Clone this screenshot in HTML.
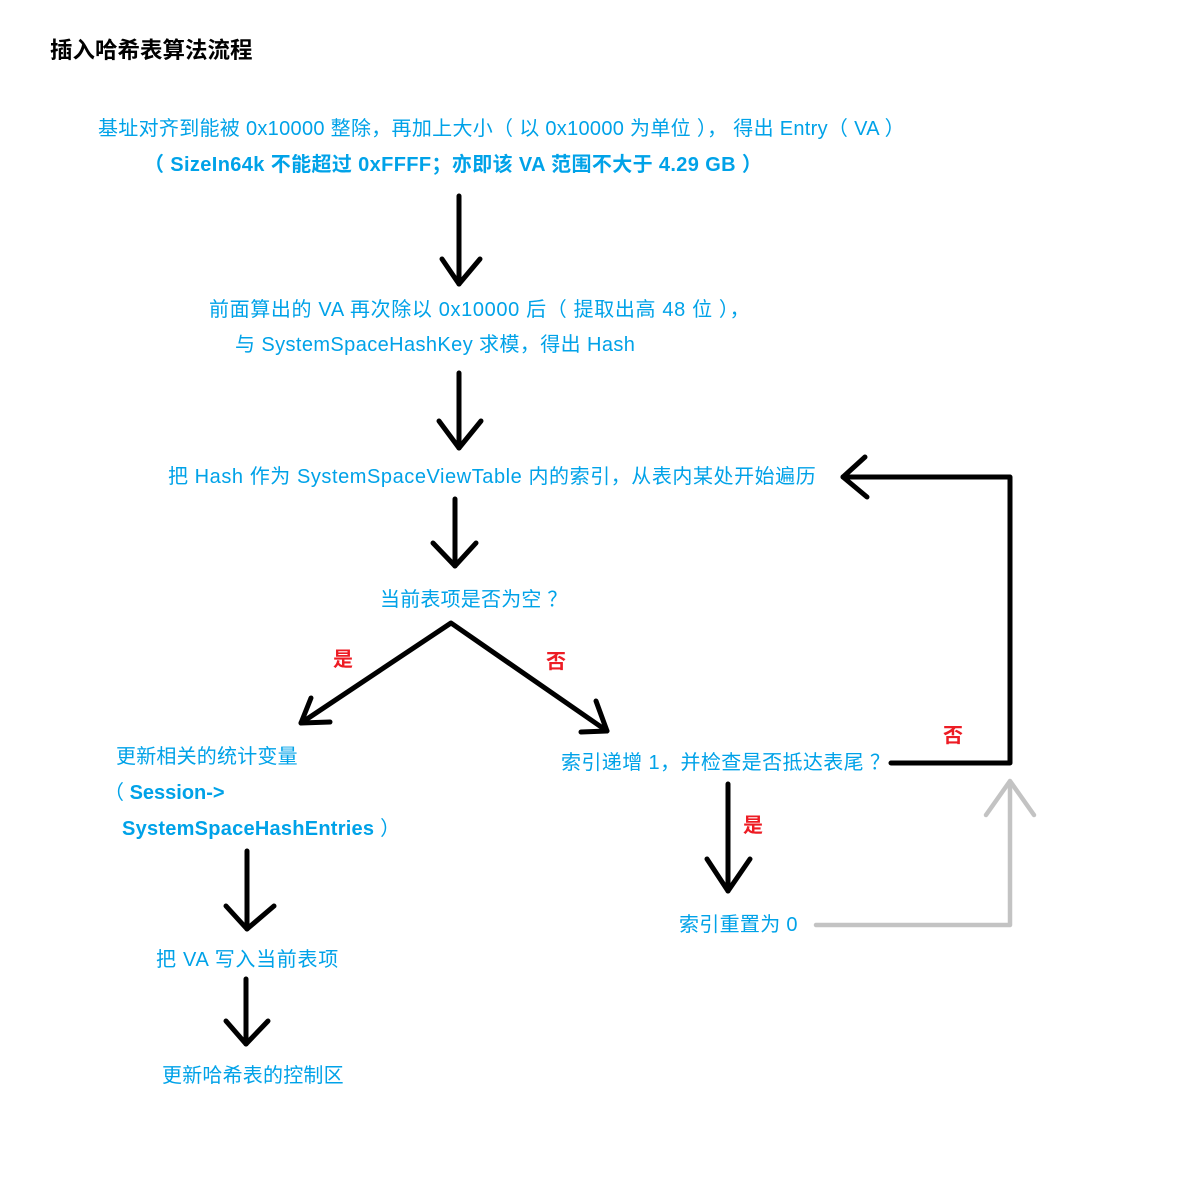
<!DOCTYPE html>
<html>
<head>
<meta charset="utf-8">
<style>
html,body{margin:0;padding:0;background:#fff;}
body{width:1200px;height:1202px;position:relative;overflow:hidden;font-family:"Liberation Sans","Noto Sans CJK SC",sans-serif;}
.t{position:absolute;white-space:nowrap;font-size:20px;line-height:20px;color:#00a2e8;}
.b{font-weight:bold;}
.r{position:absolute;white-space:nowrap;font-size:20px;line-height:20px;color:#ed1c24;font-weight:bold;}
svg{position:absolute;left:0;top:0;}
</style>
</head>
<body>
<svg width="1200" height="1202" viewBox="0 0 1200 1202">
  <g fill="none" stroke="#000" stroke-width="5" stroke-linecap="round" stroke-linejoin="round">
    <line x1="459" y1="196" x2="459" y2="284"/>
    <polyline points="442,259 459,284 480,259"/>
    <line x1="459" y1="373" x2="459" y2="448"/>
    <polyline points="439,421 459,448 481,421"/>
    <line x1="455" y1="499" x2="455" y2="566"/>
    <polyline points="433,543 455,566 476,543"/>
    <polyline points="301,723 451,623 607,731"/>
    <polyline points="311,698 301,723 330,722"/>
    <polyline points="596,701 607,731 581,732"/>
    <line x1="247" y1="851" x2="247" y2="929"/>
    <polyline points="226,906 247,929 274,906"/>
    <line x1="246" y1="979" x2="246" y2="1044"/>
    <polyline points="226,1021 246,1044 268,1021"/>
    <line x1="728" y1="784" x2="728" y2="891"/>
    <polyline points="707,859 728,891 750,859"/>
    <polyline points="891,763 1010,763 1010,477 843,477"/>
    <polyline points="865,457 843,477 867,497"/>
  </g>
  <g fill="none" stroke="#c3c3c3" stroke-width="4.5" stroke-linecap="round" stroke-linejoin="round">
    <polyline points="816,925 1010,925 1010,782"/>
    <polyline points="986,815 1010,781 1034,815"/>
  </g>
</svg>

<div class="t b" style="left:50px;top:40px;font-size:22.5px;line-height:22px;color:#000;">插入哈希表算法流程</div>

<div class="t" style="left:98px;top:119px;letter-spacing:0.3px;">基址对齐到能被 0x10000 整除，再加上大小（ 以 0x10000 为单位 ）， 得出 Entry（ VA ）</div>
<div class="t b" style="left:144px;top:155px;letter-spacing:0.37px;">（ SizeIn64k 不能超过 0xFFFF；亦即该 VA 范围不大于 4.29 GB ）</div>

<div class="t" style="left:209px;top:300px;letter-spacing:0.64px;">前面算出的 VA 再次除以 0x10000 后（ 提取出高 48 位 ），</div>
<div class="t" style="left:235px;top:335px;letter-spacing:0.4px;">与 SystemSpaceHashKey 求模，得出 Hash</div>

<div class="t" style="left:168px;top:467px;letter-spacing:0.56px;">把 Hash 作为 SystemSpaceViewTable 内的索引，从表内某处开始遍历</div>

<div class="t" style="left:380px;top:590px;letter-spacing:0.2px;">当前表项是否为空 ？</div>

<div class="r" style="left:333px;top:650px;">是</div>
<div class="r" style="left:546px;top:652px;">否</div>

<div class="t" style="left:116px;top:747px;letter-spacing:0.2px;">更新相关的统计变量</div>
<div class="t" style="left:104px;top:783px;">（ <span class="b">Session-&gt;</span></div>
<div class="t" style="left:122px;top:819px;letter-spacing:0.25px;"><span class="b">SystemSpaceHashEntries</span> ）</div>

<div class="t" style="left:156px;top:950px;letter-spacing:0.7px;">把 VA 写入当前表项</div>
<div class="t" style="left:162px;top:1066px;letter-spacing:0.2px;">更新哈希表的控制区</div>

<div class="t" style="left:561px;top:753px;letter-spacing:0.4px;">索引递增 1，并检查是否抵达表尾 ？</div>
<div class="r" style="left:943px;top:726px;">否</div>
<div class="r" style="left:743px;top:816px;">是</div>
<div class="t" style="left:679px;top:915px;letter-spacing:0.3px;">索引重置为 0</div>
</body>
</html>
